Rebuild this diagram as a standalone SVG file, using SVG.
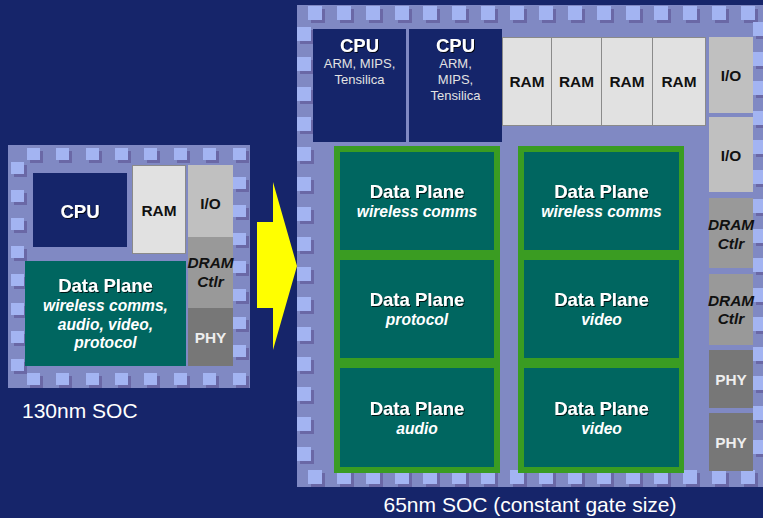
<svg xmlns="http://www.w3.org/2000/svg" width="763" height="518" viewBox="0 0 763 518">
<defs>
<style>
text{font-family:"Liberation Sans",Arial,sans-serif;text-anchor:middle}
.bg{fill:#16256a}
.chip{fill:#8089c3}
.pad{fill:#a3b4f2}
.psh{fill:#6a68a6}
.cpu{fill:#15256a}
.ram{fill:#e1e1e1;stroke:#8a8a8a;stroke-width:1}
.io{fill:#c0c0c0}
.dram{fill:#999999}
.phy{fill:#777777}
.dp{fill:#006660}
.grn{fill:#3a9c22}
.t18{font-size:18.5px;font-weight:bold;fill:#ffffff;filter:url(#sh)}
.sub{font-size:15.6px;font-weight:bold;font-style:italic;fill:#ffffff}
.arm{font-size:13px;fill:#e2e2e2}
.lbl{font-size:15.4px;font-weight:bold;fill:#111111}
.lbli{font-size:15.4px;font-weight:bold;font-style:italic;fill:#111111}
.phyt{font-size:15.4px;font-weight:bold;fill:#eeeeee}
.cap{font-size:21px;fill:#ffffff}
</style>
<filter id="sh" x="-10%" y="-20%" width="130%" height="150%">
<feDropShadow dx="1" dy="1" stdDeviation="0.3" flood-color="#000000" flood-opacity="0.8"/>
</filter>
<g id="padS"><rect class="psh" x="3" y="3" width="13" height="12"/><rect class="pad" width="13" height="12"/></g>
<g id="padB"><rect class="psh" x="3" y="3" width="14" height="14"/><rect class="pad" width="14" height="14"/></g>
</defs>
<rect class="bg" width="763" height="518"/>

<g id="chip130">
<rect class="chip" x="8" y="145" width="242" height="243"/>
<g id="pads130">
<use href="#padS" x="27" y="148"/><use href="#padS" x="56" y="148"/><use href="#padS" x="86" y="148"/><use href="#padS" x="115" y="148"/><use href="#padS" x="144" y="148"/><use href="#padS" x="174" y="148"/><use href="#padS" x="203" y="148"/><use href="#padS" x="233" y="148"/>
<use href="#padS" x="27" y="373"/><use href="#padS" x="56" y="373"/><use href="#padS" x="86" y="373"/><use href="#padS" x="115" y="373"/><use href="#padS" x="144" y="373"/><use href="#padS" x="174" y="373"/><use href="#padS" x="203" y="373"/><use href="#padS" x="233" y="373"/>
<use href="#padS" x="11" y="162"/><use href="#padS" x="11" y="190"/><use href="#padS" x="11" y="218"/><use href="#padS" x="11" y="246"/><use href="#padS" x="11" y="274"/><use href="#padS" x="11" y="303"/><use href="#padS" x="11" y="331"/><use href="#padS" x="11" y="359"/>
<use href="#padS" x="233" y="177"/><use href="#padS" x="233" y="205"/><use href="#padS" x="233" y="233"/><use href="#padS" x="233" y="261"/><use href="#padS" x="233" y="289"/><use href="#padS" x="233" y="317"/><use href="#padS" x="233" y="345"/>
</g>
<g id="s-cpu"><rect class="cpu" x="33" y="173" width="94" height="74"/><text class="t18" x="80" y="218">CPU</text></g>
<g id="s-ram"><rect class="ram" x="132.5" y="165.5" width="53" height="88"/><text class="lbl" x="159" y="216">RAM</text></g>
<g id="s-io"><rect class="io" x="188" y="165" width="45" height="72"/><text class="lbl" x="210.5" y="209">I/O</text></g>
<g id="s-dram"><rect class="dram" x="188" y="237" width="45" height="71"/><text class="lbli" x="210.5" y="268">DRAM</text><text class="lbli" x="210.5" y="287">Ctlr</text></g>
<g id="s-phy"><rect class="phy" x="188" y="308" width="45" height="58"/><text class="phyt" x="210.5" y="343">PHY</text></g>
<g id="s-dp"><rect class="dp" x="25" y="261" width="161" height="105"/>
<text class="t18" x="105.5" y="292">Data Plane</text>
<text class="sub" x="105.5" y="311">wireless comms,</text>
<text class="sub" x="105.5" y="330">audio, video,</text>
<text class="sub" x="105.5" y="348">protocol</text></g>
<text id="cap130" class="cap" x="22" y="418" style="text-anchor:start">130nm SOC</text>
</g>

<g id="connectors">
<polygon points="257,222 273,222 273,182 297,266 273,350 273,308 257,308" fill="#ffff00"/>
</g>

<g id="chip65">
<rect class="chip" x="297" y="5" width="470" height="482"/>
<g id="pads65">
<use href="#padB" x="308" y="6"/><use href="#padB" x="337" y="6"/><use href="#padB" x="366" y="6"/><use href="#padB" x="395" y="6"/><use href="#padB" x="423" y="6"/><use href="#padB" x="452" y="6"/><use href="#padB" x="481" y="6"/><use href="#padB" x="510" y="6"/><use href="#padB" x="539" y="6"/><use href="#padB" x="568" y="6"/><use href="#padB" x="597" y="6"/><use href="#padB" x="626" y="6"/><use href="#padB" x="654" y="6"/><use href="#padB" x="683" y="6"/><use href="#padB" x="712" y="6"/><use href="#padB" x="741" y="6"/>
<use href="#padB" x="308" y="470"/><use href="#padB" x="337" y="470"/><use href="#padB" x="366" y="470"/><use href="#padB" x="395" y="470"/><use href="#padB" x="423" y="470"/><use href="#padB" x="452" y="470"/><use href="#padB" x="481" y="470"/><use href="#padB" x="510" y="470"/><use href="#padB" x="539" y="470"/><use href="#padB" x="568" y="470"/><use href="#padB" x="597" y="470"/><use href="#padB" x="626" y="470"/><use href="#padB" x="654" y="470"/><use href="#padB" x="683" y="470"/><use href="#padB" x="712" y="470"/><use href="#padB" x="741" y="470"/>
<use href="#padB" x="297" y="27"/><use href="#padB" x="297" y="57"/><use href="#padB" x="297" y="87"/><use href="#padB" x="297" y="117"/><use href="#padB" x="297" y="147"/><use href="#padB" x="297" y="177"/><use href="#padB" x="297" y="207"/><use href="#padB" x="297" y="237"/><use href="#padB" x="297" y="267"/><use href="#padB" x="297" y="297"/><use href="#padB" x="297" y="327"/><use href="#padB" x="297" y="357"/><use href="#padB" x="297" y="387"/><use href="#padB" x="297" y="417"/><use href="#padB" x="297" y="447"/>
<use href="#padB" x="753" y="22"/><use href="#padB" x="753" y="52"/><use href="#padB" x="753" y="81"/><use href="#padB" x="753" y="111"/><use href="#padB" x="753" y="140"/><use href="#padB" x="753" y="170"/><use href="#padB" x="753" y="199"/><use href="#padB" x="753" y="229"/><use href="#padB" x="753" y="258"/><use href="#padB" x="753" y="288"/><use href="#padB" x="753" y="317"/><use href="#padB" x="753" y="347"/><use href="#padB" x="753" y="376"/><use href="#padB" x="753" y="406"/><use href="#padB" x="753" y="440"/>
</g>
<g id="b-cpu1"><rect class="cpu" x="313" y="29" width="93" height="113"/>
<text class="t18" x="359.5" y="52">CPU</text><text class="arm" x="359.5" y="68">ARM, MIPS,</text><text class="arm" x="359.5" y="84">Tensilica</text></g>
<g id="b-cpu2"><rect class="cpu" x="409" y="29" width="93" height="113"/>
<text class="t18" x="455.5" y="52">CPU</text><text class="arm" x="455.5" y="68">ARM,</text><text class="arm" x="455.5" y="84">MIPS,</text><text class="arm" x="455.5" y="100">Tensilica</text></g>
<g id="b-ram1"><rect class="ram" x="502.5" y="37.5" width="49" height="88"/><text class="lbl" x="527" y="87">RAM</text></g>
<g id="b-ram2"><rect class="ram" x="551.5" y="37.5" width="50" height="88"/><text class="lbl" x="576.5" y="87">RAM</text></g>
<g id="b-ram3"><rect class="ram" x="601.5" y="37.5" width="51" height="88"/><text class="lbl" x="627" y="87">RAM</text></g>
<g id="b-ram4"><rect class="ram" x="652.5" y="37.5" width="53" height="88"/><text class="lbl" x="679" y="87">RAM</text></g>
<g id="b-io1"><rect class="io" x="709" y="37" width="44" height="76"/><text class="lbl" x="731" y="81">I/O</text></g>
<g id="b-io2"><rect class="io" x="709" y="117" width="44" height="75"/><text class="lbl" x="731" y="161">I/O</text></g>
<g id="b-dram1"><rect class="dram" x="709" y="198" width="44" height="70"/><text class="lbli" x="731" y="230">DRAM</text><text class="lbli" x="731" y="249">Ctlr</text></g>
<g id="b-dram2"><rect class="dram" x="709" y="274" width="44" height="71"/><text class="lbli" x="731" y="306">DRAM</text><text class="lbli" x="731" y="324">Ctlr</text></g>
<g id="b-phy1"><rect class="phy" x="709" y="350" width="44" height="58"/><text class="phyt" x="731" y="385">PHY</text></g>
<g id="b-phy2"><rect class="phy" x="709" y="413" width="44" height="58"/><text class="phyt" x="731" y="448">PHY</text></g>
<rect class="grn" x="334" y="146" width="166" height="327"/>
<rect class="grn" x="518" y="146" width="166" height="327"/>
<g id="dp-l1"><rect class="dp" x="340" y="152" width="154" height="98"/><text class="t18" x="417" y="198">Data Plane</text><text class="sub" x="417" y="217">wireless comms</text></g>
<g id="dp-l2"><rect class="dp" x="340" y="260" width="154" height="98"/><text class="t18" x="417" y="306">Data Plane</text><text class="sub" x="417" y="325">protocol</text></g>
<g id="dp-l3"><rect class="dp" x="340" y="368" width="154" height="99"/><text class="t18" x="417" y="415">Data Plane</text><text class="sub" x="417" y="434">audio</text></g>
<g id="dp-r1"><rect class="dp" x="524" y="152" width="155" height="98"/><text class="t18" x="601.5" y="198">Data Plane</text><text class="sub" x="601.5" y="217">wireless comms</text></g>
<g id="dp-r2"><rect class="dp" x="524" y="260" width="155" height="98"/><text class="t18" x="601.5" y="306">Data Plane</text><text class="sub" x="601.5" y="325">video</text></g>
<g id="dp-r3"><rect class="dp" x="524" y="368" width="155" height="99"/><text class="t18" x="601.5" y="415">Data Plane</text><text class="sub" x="601.5" y="434">video</text></g>
<text id="cap65" class="cap" x="530" y="512">65nm SOC (constant gate size)</text>
</g>
</svg>
